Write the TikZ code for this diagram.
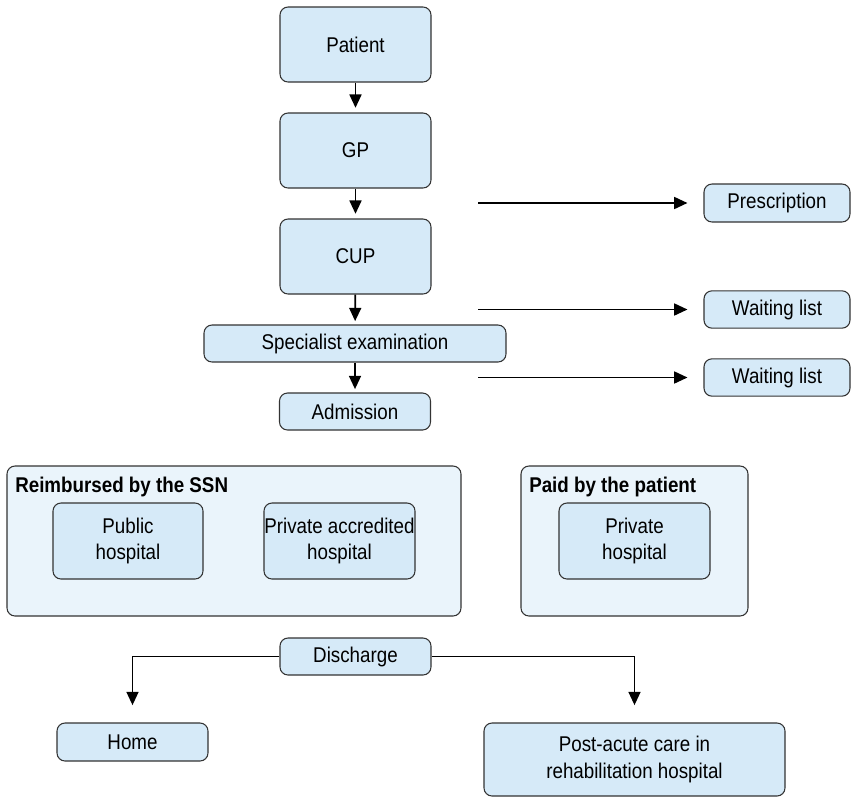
\documentclass[tikz,border=0pt]{standalone}
\usepackage{fontspec}
\setmainfont{Liberation Sans}[FakeStretch=0.88]
\usetikzlibrary{arrows.meta,positioning}
\definecolor{boxblue}{HTML}{D6EAF8}
\definecolor{paleblue}{HTML}{EAF4FB}
\definecolor{edgegray}{HTML}{333333}

\begin{document}
\begin{tikzpicture}[x=0.75pt,y=-0.75pt,
    box/.style={draw=edgegray,fill=boxblue,rounded corners=6pt,line width=0.8pt,
      align=center,inner sep=0pt,font=\fontsize{16}{20}\selectfont},
    tallbox/.style={box,minimum width=113.25pt,minimum height=56.25pt},
    flatbox/.style={box,minimum width=113.25pt,minimum height=27.75pt},
    sidebox/.style={box,minimum width=109.5pt,minimum height=28pt},
    group/.style={draw=edgegray,fill=paleblue,rounded corners=6pt,line width=0.8pt,
      inner sep=0pt,minimum height=112.5pt},
    grouptitle/.style={anchor=base west,inner sep=0pt,font=\fontsize{16}{20}\selectfont\bfseries},
    arrow/.style={-{Triangle[length=10pt,width=9pt]},line width=1.3pt}]
  \useasboundingbox (0,0) rectangle (851,797);

  % main path
  \node[tallbox] (patient) at (355.5,44.5) {Patient};
  \node[tallbox] (gp) at (355.5,150.5) {GP};
  \node[tallbox] (cup) at (355.5,256.5) {CUP};
  \node[flatbox,minimum width=226.5pt] (specialist) at (355,343.5) {Specialist examination};
  \node[flatbox] (admission) at (355,411.5) {Admission};

  \draw[arrow,shorten >=3.5pt] (patient) -- (gp);
  \draw[arrow,shorten >=3.5pt] (gp) -- (cup);
  \draw[arrow,shorten >=2.5pt] (cup) -- (specialist);
  \draw[arrow,shorten >=2.5pt] (specialist) -- (admission);

  % side outcomes
  \node[sidebox,minimum height=28.5pt] (prescription) at (777,203) {Prescription};
  \node[sidebox] (waitcup) at (777,309.5) {Waiting list};
  \node[sidebox] (waitspec) at (777,377.5) {Waiting list};

  \coordinate (fromgp) at (478,203);
  \coordinate (fromcup) at (478,309.5);
  \coordinate (fromspec) at (478,377.5);
  \draw[arrow,shorten >=12pt] (fromgp) -- (prescription.west);
  \draw[arrow,shorten >=12pt] (fromcup) -- (waitcup.west);
  \draw[arrow,shorten >=12pt] (fromspec) -- (waitspec.west);

  % hospitals
  \node[group,minimum width=340.5pt] (ssn) at (234,541) {};
  \node[grouptitle] (ssntitle) at (15,492) {Reimbursed by the SSN};
  \node[tallbox,minimum width=112.5pt,minimum height=57pt] (public) at (128,541) {Public\\hospital};
  \node[tallbox,minimum height=57pt] (accredited) at (339.5,541) {Private accredited\\hospital};

  \node[group,minimum width=170.25pt] (paid) at (634.5,541) {};
  \node[grouptitle] (paidtitle) at (529,492) {Paid by the patient};
  \node[tallbox,minimum height=57pt] (private) at (634.5,541) {Private\\hospital};

  % discharge
  \node[flatbox] (discharge) at (355.5,656.5) {Discharge};
  \node[flatbox,minimum height=28.5pt] (home) at (132.5,742) {Home};
  \node[tallbox,minimum width=225.75pt,minimum height=54.75pt] (postacute) at (634.5,759.5)
    {Post-acute care in\\rehabilitation hospital};

  \draw[arrow,shorten >=13pt] (discharge.west) -| (home.north);
  \draw[arrow,shorten >=13pt] (discharge.east) -| (postacute.north);
\end{tikzpicture}
\end{document}
